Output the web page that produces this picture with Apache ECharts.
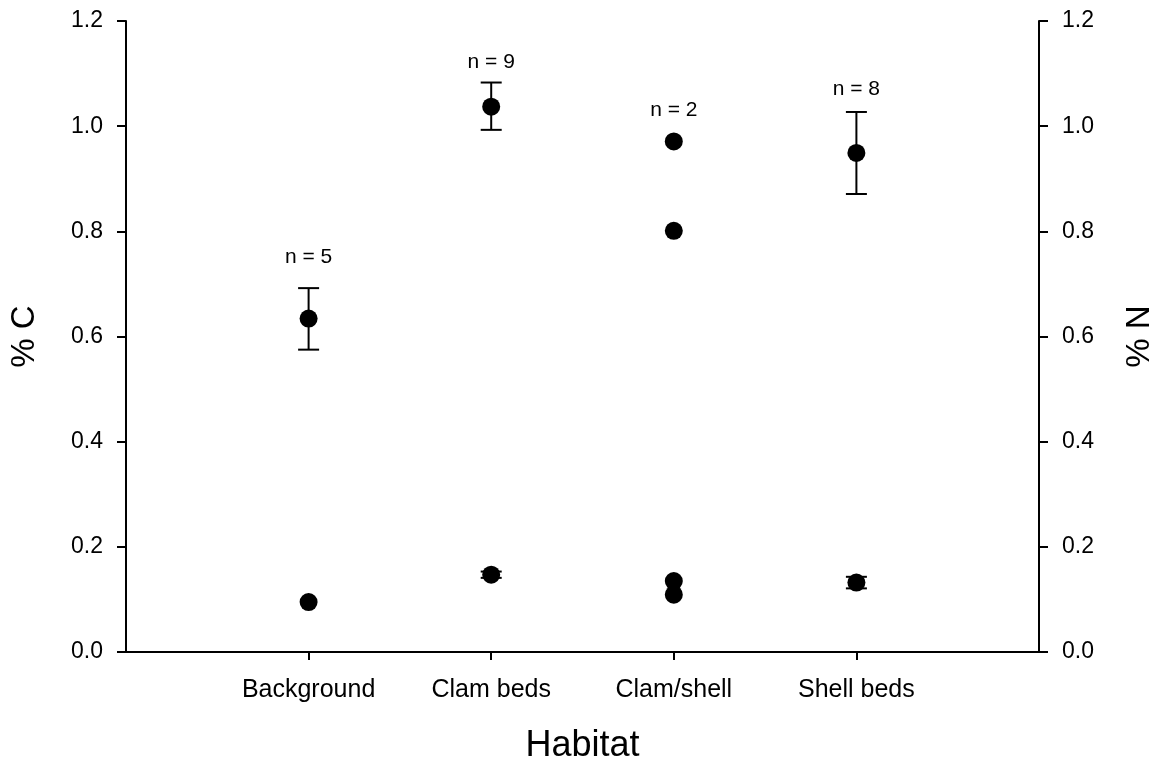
<!DOCTYPE html>
<html>
<head>
<meta charset="utf-8">
<script src="https://cdn.jsdelivr.net/npm/echarts@6/dist/echarts.min.js"></script>
<style>html,body{margin:0;padding:0;background:#fff}#c{width:1159px;height:761px}</style>
</head>
<body>
<div id="c"></div>
<script>
// Categories (habitats) and their x positions on the value axis
const categories = ['Background', 'Clam beds', 'Clam/shell', 'Shell beds'];
const catPos = [1, 2, 3, 4];

// % C points (category, value) - Clam/shell has two individual points (n = 2)
const carbonCat = ['Background', 'Clam beds', 'Clam/shell', 'Clam/shell', 'Shell beds'];
const carbonVal = [0.634, 1.037, 0.971, 0.801, 0.949];
// % C error bars (category, low, high)
const carbonErrCat = ['Background', 'Clam beds', 'Shell beds'];
const carbonErrLow = [0.575, 0.993, 0.871];
const carbonErrHigh = [0.692, 1.083, 1.027];

// % N points
const nitroCat = ['Background', 'Clam beds', 'Clam/shell', 'Clam/shell', 'Shell beds'];
const nitroVal = [0.095, 0.147, 0.135, 0.109, 0.132];
// % N error bars
const nitroErrCat = ['Clam beds', 'Shell beds'];
const nitroErrLow = [0.141, 0.121];
const nitroErrHigh = [0.153, 0.143];

// Sample size annotations
const nLabels = ['n = 5', 'n = 9', 'n = 2', 'n = 8'];
const nLabelY = [0.750, 1.121, 1.031, 1.070];

// Y axis ticks
const yTicks = [0, 0.2, 0.4, 0.6, 0.8, 1.0, 1.2];

const FONT = 'Liberation Sans, Arial, Helvetica, sans-serif';
const pos = c => catPos[categories.indexOf(c)];

const carbonData = carbonCat.map((c, i) => [pos(c), carbonVal[i]]);
const nitroData = nitroCat.map((c, i) => [pos(c), nitroVal[i]]);
const carbonErr = carbonErrCat.map((c, i) => [pos(c), carbonErrLow[i], carbonErrHigh[i]]);
const nitroErr = nitroErrCat.map((c, i) => [pos(c), nitroErrLow[i], nitroErrHigh[i]]);
const labelData = catPos.map((p, i) => [p, nLabelY[i], nLabels[i]]);

function errRender(params, api) {
  const lo = api.coord([api.value(0), api.value(1)]);
  const hi = api.coord([api.value(0), api.value(2)]);
  const w = 10.5;
  const st = { stroke: '#000', lineWidth: 2 };
  return {
    type: 'group',
    children: [
      { type: 'line', shape: { x1: lo[0], y1: lo[1], x2: hi[0], y2: hi[1] }, style: st },
      { type: 'line', shape: { x1: lo[0] - w, y1: lo[1], x2: lo[0] + w, y2: lo[1] }, style: st },
      { type: 'line', shape: { x1: hi[0] - w, y1: hi[1], x2: hi[0] + w, y2: hi[1] }, style: st }
    ]
  };
}

const yAxisCommon = {
  type: 'value', min: 0, max: 1.2, interval: 0.2,
  nameLocation: 'middle', nameRotate: 90,
  nameTextStyle: { fontFamily: FONT, fontSize: 33, color: '#000' },
  axisLine: { show: true, lineStyle: { color: '#000', width: 2 } },
  axisTick: { show: true, inside: false, length: 9, lineStyle: { color: '#000', width: 2 } },
  axisLabel: { fontFamily: FONT, fontSize: 23, color: '#000', margin: 23,
    formatter: v => yTicks.some(t => Math.abs(t - v) < 1e-9) ? v.toFixed(1) : '' },
  splitLine: { show: false }
};

const chart = echarts.init(document.getElementById('c'), null, { renderer: 'canvas' });
chart.setOption({
  backgroundColor: '#fff',
  animation: false,
  grid: { left: 126, right: 120, top: 21, bottom: 109, containLabel: false, outerBoundsMode: 'none' },
  xAxis: {
    type: 'value', min: 0, max: 5,
    name: 'Habitat', nameLocation: 'middle', nameGap: 76,
    nameTextStyle: { fontFamily: FONT, fontSize: 36, color: '#000' },
    axisLine: { show: true, onZero: false, lineStyle: { color: '#000', width: 2 } },
    axisTick: { show: true, length: 8, customValues: catPos, lineStyle: { color: '#000', width: 2 } },
    axisLabel: { show: true, customValues: catPos, fontFamily: FONT, fontSize: 25, color: '#000', margin: 26,
      formatter: v => { const i = catPos.indexOf(Math.round(v)); return i >= 0 ? categories[i] : ''; } },
    splitLine: { show: false }
  },
  yAxis: [
    Object.assign({}, yAxisCommon, { name: '% C', position: 'left', nameGap: 85 }),
    Object.assign({}, yAxisCommon, { name: '% N', position: 'right', nameGap: 84 })
  ],
  series: [
    { type: 'custom', name: 'C err', yAxisIndex: 0, renderItem: errRender, data: carbonErr, z: 2 },
    { type: 'custom', name: 'N err', yAxisIndex: 1, renderItem: errRender, data: nitroErr, z: 2 },
    { type: 'scatter', name: '% C', yAxisIndex: 0, data: carbonData, symbol: 'circle', symbolSize: 18,
      itemStyle: { color: '#000', opacity: 1 }, z: 3 },
    { type: 'scatter', name: '% N', yAxisIndex: 1, data: nitroData, symbol: 'circle', symbolSize: 18,
      itemStyle: { color: '#000', opacity: 1 }, z: 3 },
    { type: 'custom', name: 'n labels', yAxisIndex: 0, data: labelData, z: 4,
      renderItem: (params, api) => {
        const p = api.coord([api.value(0), api.value(1)]);
        return { type: 'text', x: p[0], y: p[1],
          style: { text: labelData[params.dataIndex][2], font: '21px ' + FONT, fill: '#000',
            align: 'center', verticalAlign: 'middle' } };
      } }
  ]
});
</script>
</body>
</html>
